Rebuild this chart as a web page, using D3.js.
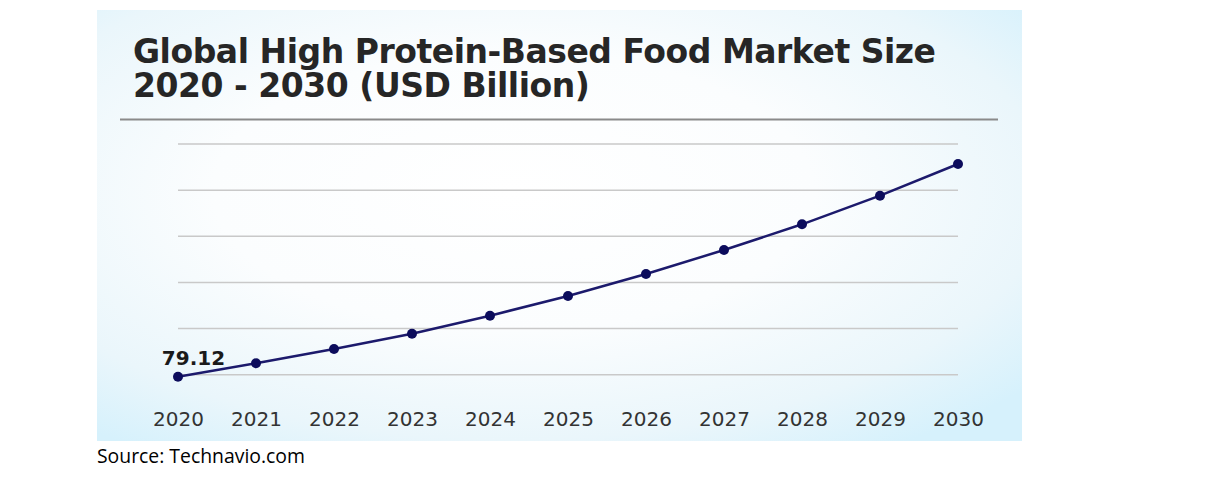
<!DOCTYPE html>
<html>
<head>
<meta charset="utf-8">
<script src="https://cdn.jsdelivr.net/npm/d3@7"></script>
<style>
  html, body { margin: 0; padding: 0; background: #ffffff; }
  svg { display: block; }
</style>
</head>
<body>
<svg id="chart" width="1214" height="478"></svg>
<script>
// ---- data ----
const years = ["2020","2021","2022","2023","2024","2025","2026","2027","2028","2029","2030"];
const marketSize = [79.12, 84.94, 91.14, 97.77, 105.57, 114.11, 123.65, 134.05, 145.19, 157.59, 171.33];
const gridTicks = [80, 100, 120, 140, 160, 180];
const titleLines = ["Global High Protein-Based Food Market Size", "2020 - 2030 (USD Billion)"];
const sourceText = "Source: Technavio.com";

const svg = d3.select("#chart");

// background panel gradient
const defs = svg.append("defs");
const grad = defs.append("radialGradient")
  .attr("id", "bg").attr("gradientUnits", "objectBoundingBox")
  .attr("cx", "0.45").attr("cy", "0.42").attr("r", "0.72");
grad.append("stop").attr("offset", "0").attr("stop-color", "#ffffff");
grad.append("stop").attr("offset", "0.45").attr("stop-color", "#fbfdfe");
grad.append("stop").attr("offset", "0.8").attr("stop-color", "#eaf6fb");
grad.append("stop").attr("offset", "1").attr("stop-color", "#d6f1fc");

svg.append("rect")
  .attr("x", 97).attr("y", 10).attr("width", 925).attr("height", 431)
  .attr("fill", "url(#bg)");

// title (one text element, two lines)
const titleSize = 33;
const title = svg.append("text")
  .attr("font-family", "DejaVu Sans").attr("font-weight", "bold")
  .attr("font-size", titleSize).attr("fill", "#262626");
const ts1 = title.append("tspan").attr("x", 133).attr("y", 63).text(titleLines[0]);
const w1 = ts1.node().getComputedTextLength();
const ls = (803 - w1) / (titleLines[0].length - 1);
title.attr("letter-spacing", ls);
title.append("tspan").attr("x", 133).attr("y", 97).text(titleLines[1]);

// title rule
svg.append("line")
  .attr("x1", 120).attr("x2", 998).attr("y1", 119.5).attr("y2", 119.5)
  .attr("stroke", "#8a8a8a").attr("stroke-width", 2);

// scales
const x = d3.scalePoint().domain(years).range([178, 958]);
const y = d3.scaleLinear().domain([80, 180]).range([374.7, 144]);

// gridlines
svg.append("g").selectAll("line").data(gridTicks).join("line")
  .attr("x1", 178).attr("x2", 958)
  .attr("y1", d => y(d)).attr("y2", d => y(d))
  .attr("stroke", "#c9c9c9").attr("stroke-width", 1.5);

// x axis (labels only)
const xAxis = svg.append("g")
  .attr("transform", "translate(0,409)")
  .call(d3.axisBottom(x).tickSize(0).tickPadding(0));
xAxis.select(".domain").remove();
xAxis.selectAll("text")
  .attr("font-family", "DejaVu Sans").attr("font-size", 20)
  .attr("fill", "#333333").attr("dy", "0.85em");

// line
const data = years.map((yr, i) => ({ yr, v: marketSize[i] }));
svg.append("path")
  .datum(data)
  .attr("fill", "none")
  .attr("stroke", "#1c1a6c").attr("stroke-width", 2.5)
  .attr("d", d3.line().x(d => x(d.yr)).y(d => y(d.v)));

svg.append("g").selectAll("circle").data(data).join("circle")
  .attr("cx", d => x(d.yr)).attr("cy", d => y(d.v))
  .attr("r", 5).attr("fill", "#0c0c5c");

// first value label
svg.append("text")
  .attr("x", x(years[0]) + 15.5).attr("y", 364.5)
  .attr("text-anchor", "middle")
  .attr("font-family", "DejaVu Sans").attr("font-weight", "bold")
  .attr("font-size", 20).attr("fill", "#1a1a1a")
  .text(marketSize[0].toFixed(2));

// source
const src = svg.append("text")
  .attr("x", 97).attr("y", 463)
  .attr("font-family", "Open Sans").attr("font-size", 18)
  .attr("fill", "#000000")
  .text(sourceText);
src.attr("font-size", 18 * 208 / src.node().getComputedTextLength());
</script>
</body>
</html>
